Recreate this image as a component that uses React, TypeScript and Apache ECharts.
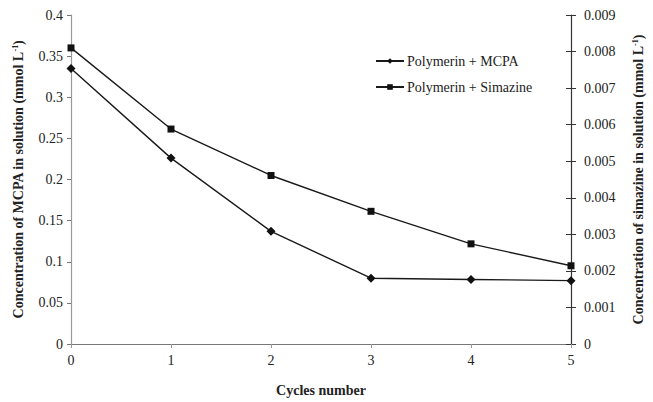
import React, { useEffect, useRef } from "react";
import * as echarts from "echarts";

const cycles = ["0", "1", "2", "3", "4", "5"];
const mcpa = [0.335, 0.226, 0.137, 0.08, 0.0785, 0.077];
const simazine = [0.0081, 0.00588, 0.00461, 0.00363, 0.00274, 0.00214];
const seriesNames = ["Polymerin + MCPA", "Polymerin + Simazine"];

const FONT = "'Liberation Serif', 'Times New Roman', serif";

export default function App() {
  const ref = useRef<HTMLDivElement>(null);
  useEffect(() => {
    if (!ref.current) return;
    const chart = echarts.init(ref.current, null, { renderer: "svg" });
    const nameRich = {
      sup: { fontSize: 8, fontWeight: "bold", fontFamily: FONT, color: "#222", verticalAlign: "top", padding: [0, 0, 6, 0] },
    };
    chart.setOption({
      animation: false,
      backgroundColor: "#fff",
      textStyle: { fontFamily: FONT },
      grid: { left: 71, right: 79, top: 15, bottom: 55 },
      legend: {
        orient: "vertical",
        left: 370,
        top: 49,
        itemWidth: 28,
        itemHeight: 7,
        itemGap: 12,
        textStyle: { fontFamily: FONT, fontSize: 14, color: "#222", padding: [0, 0, 0, -2] },
        data: seriesNames,
      },
      xAxis: {
        type: "category",
        data: cycles,
        boundaryGap: false,
        name: "Cycles number",
        nameLocation: "middle",
        nameGap: 39,
        nameTextStyle: { fontFamily: FONT, fontSize: 14, fontWeight: "bold", color: "#222" },
        axisLine: { lineStyle: { color: "#777", width: 1 } },
        axisTick: { show: true, length: 4, lineStyle: { color: "#999" } },
        axisLabel: { fontFamily: FONT, fontSize: 14, color: "#222", margin: 9 },
        splitLine: { show: false },
      },
      yAxis: [
        {
          type: "value",
          position: "left",
          min: 0,
          max: 0.4,
          interval: 0.05,
          name: "Concentration of MCPA in solution (mmol L{sup|-1})",
          nameLocation: "middle",
          nameGap: 46,
          nameTextStyle: { fontFamily: FONT, fontSize: 14, fontWeight: "bold", color: "#222", rich: nameRich },
          axisLine: { show: true, lineStyle: { color: "#999", width: 1.2 } },
          axisTick: { show: true, length: 4, lineStyle: { color: "#777" } },
          axisLabel: { fontFamily: FONT, fontSize: 14, color: "#222", margin: 8 },
          splitLine: { show: false },
        },
        {
          type: "value",
          position: "right",
          min: 0,
          max: 0.009,
          interval: 0.001,
          name: "Concentration of simazine in solution (mmol L{sup|-1})",
          nameLocation: "middle",
          nameGap: 60,
          nameRotate: 90,
          nameTextStyle: { fontFamily: FONT, fontSize: 14, fontWeight: "bold", color: "#222", rich: nameRich },
          axisLine: { show: true, lineStyle: { color: "#333", width: 1.2 } },
          axisTick: { show: true, length: 5, lineStyle: { color: "#333" } },
          axisLabel: { fontFamily: FONT, fontSize: 14, color: "#222", margin: 13 },
          splitLine: { show: false },
        },
        {
          type: "value",
          position: "right",
          min: 0,
          max: 0.009,
          interval: 0.001,
          axisLine: { show: false },
          axisTick: { show: true, inside: true, length: 5, lineStyle: { color: "#333" } },
          axisLabel: { show: false },
          splitLine: { show: false },
        },
      ],
      series: [
        {
          name: seriesNames[0],
          type: "line",
          yAxisIndex: 0,
          data: mcpa,
          symbol: "diamond",
          symbolSize: 9,
          lineStyle: { color: "#1a1a1a", width: 1.4 },
          itemStyle: { color: "#111" },
        },
        {
          name: seriesNames[1],
          type: "line",
          yAxisIndex: 1,
          data: simazine,
          symbol: "rect",
          symbolSize: 7,
          lineStyle: { color: "#1a1a1a", width: 1.4 },
          itemStyle: { color: "#111" },
        },
      ],
    });
    return () => chart.dispose();
  }, []);
  return <div ref={ref} style={{ width: 653, height: 402, position: "absolute", left: 0, top: 0 }} />;
}
